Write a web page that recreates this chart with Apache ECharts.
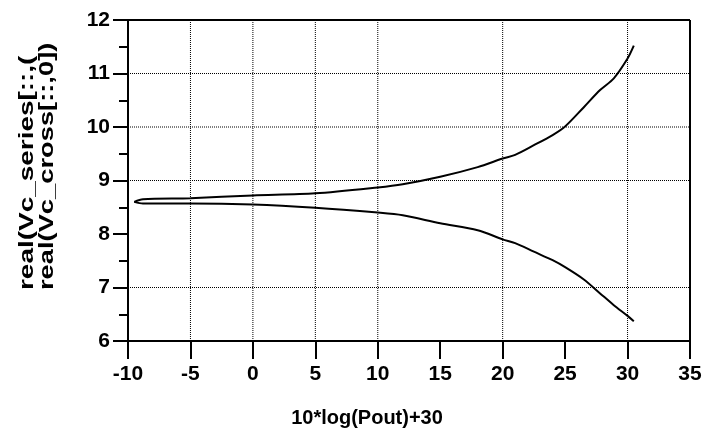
<!DOCTYPE html>
<html>
<head>
<meta charset="utf-8">
<script src="https://cdn.jsdelivr.net/npm/echarts@6/dist/echarts.min.js"></script>
<style>
html, body { margin: 0; padding: 0; background: #fff; }
#canvas_main { width: 707px; height: 441px; }
</style>
</head>
<body>
<div id="canvas_main"></div>
<script>
// data
var pout = [-9.5, -8.8, -5, 0, 5, 10, 12, 15, 18, 20, 21, 22.5, 24, 25, 26.5, 27.8, 28.9, 30, 30.5];
var vcSeries = [8.60, 8.65, 8.67, 8.72, 8.76, 8.87, 8.93, 9.07, 9.25, 9.41, 9.48, 9.66, 9.85, 10.01, 10.37, 10.69, 10.91, 11.28, 11.52];
var vcCross = [8.60, 8.57, 8.57, 8.55, 8.49, 8.40, 8.35, 8.20, 8.07, 7.90, 7.83, 7.67, 7.51, 7.38, 7.15, 6.89, 6.67, 6.47, 6.37];
var gridX = [-5, 0, 5, 10, 20, 30];
var gridY = [11, 10, 9, 7];
var xMin = -10, xMax = 35, yMin = 6, yMax = 12;

var font = '"Liberation Sans", Arial, sans-serif';

function pairs(xs, ys) {
	var out = [];
	for (var i = 0; i < xs.length; i++) out.push([xs[i], ys[i]]);
	return out;
}

function guide(data, style) {
	return {
		type: 'line', data: data, silent: true, clip: false, z: 1,
		showSymbol: false, symbol: 'none', lineStyle: style
	};
}

var series = [];
// dotted grid lines, only where the original has them
gridX.forEach(function (v) {
	series.push(guide([[v, yMin], [v, yMax]], { color: '#000', type: 'dotted', width: 1 }));
});
gridY.forEach(function (v) {
	series.push(guide([[xMin, v], [xMax, v]], { color: '#000', type: 'dotted', width: 1 }));
});
// top and right edges of the frame
series.push(guide([[xMin, yMax], [xMax, yMax]], { color: '#000', width: 2 }));
series.push(guide([[xMax, yMin], [xMax, yMax]], { color: '#000', width: 2 }));

series.push({
	name: 'series', type: 'line', data: pairs(pout, vcSeries), z: 3,
	showSymbol: false, smooth: 0.3, lineStyle: { color: '#000', width: 2 }
});
series.push({
	name: 'cross', type: 'line', data: pairs(pout, vcCross), z: 3,
	showSymbol: false, smooth: 0.3, lineStyle: { color: '#000', width: 2 }
});

var myChart = echarts.init(document.getElementById('canvas_main'));
var option = {
	animation: false,
	grid: { left: 128, right: 17, top: 20, bottom: 100 },
	xAxis: {
		type: 'value', min: xMin, max: xMax, interval: 5,
		axisLine: { show: true, onZero: false, lineStyle: { color: '#000', width: 2 } },
		axisTick: { show: true, length: 18, lineStyle: { color: '#000', width: 2 } },
		axisLabel: { margin: 23, color: '#000', fontSize: 21, fontWeight: 'bold', fontFamily: font },
		splitLine: { show: false }
	},
	yAxis: {
		type: 'value', min: yMin, max: yMax, interval: 1,
		axisLine: { show: true, onZero: false, lineStyle: { color: '#000', width: 2 } },
		axisTick: { show: true, length: 15, lineStyle: { color: '#000', width: 2 } },
		minorTick: { show: true, splitNumber: 2, length: 9, lineStyle: { color: '#000', width: 2 } },
		axisLabel: { margin: 18, color: '#000', fontSize: 21, fontWeight: 'bold', fontFamily: font },
		splitLine: { show: false }
	},
	graphic: [
		{
			type: 'text', x: 27, y: 290, rotation: Math.PI / 2, scaleX: 1.33,
			style: { text: 'real(Vc_series[::,(', fill: '#000', font: 'bold 21px ' + font,
				textAlign: 'left', textVerticalAlign: 'middle' }
		},
		{
			type: 'text', x: 47, y: 290, rotation: Math.PI / 2, scaleX: 1.3,
			style: { text: 'real(Vc_cross[::,0])', fill: '#000', font: 'bold 21px ' + font,
				textAlign: 'left', textVerticalAlign: 'middle' }
		},
		{
			type: 'text', x: 367, y: 418,
			style: { text: '10*log(Pout)+30', fill: '#000', font: 'bold 20px ' + font,
				textAlign: 'center', textVerticalAlign: 'middle' }
		}
	],
	series: series
};
myChart.setOption(option);
</script>
</body>
</html>
